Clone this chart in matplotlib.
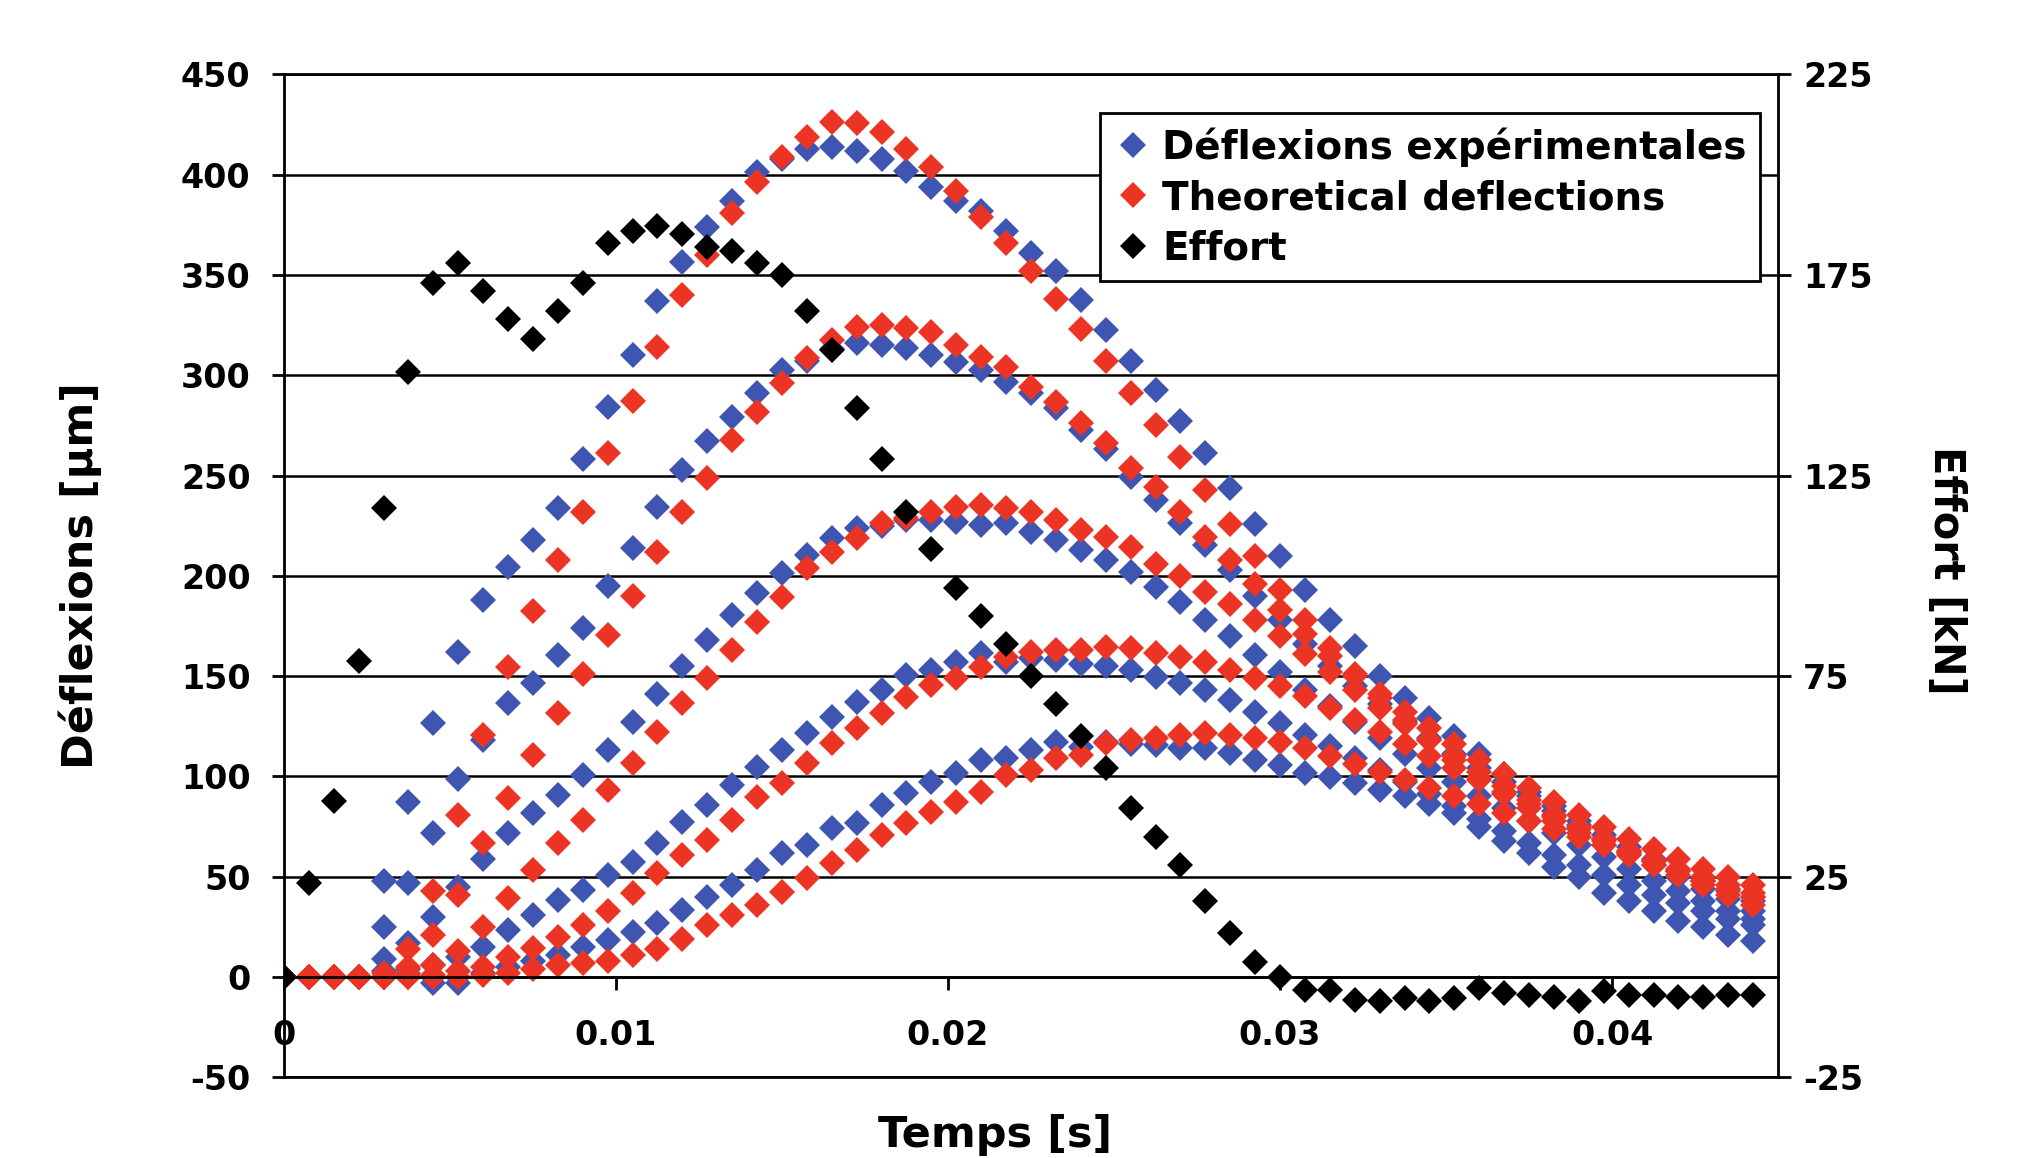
import numpy as np
import matplotlib.pyplot as plt

plt.rcParams['font.family'] = ['DejaVu Sans']
plt.rcParams['font.weight'] = 'bold'
plt.rcParams['axes.unicode_minus'] = False

# pas de temps des mesures (s), 60 echantillons
dt = 0.00075
n_pts = 60
exp_start = 4  # les mesures commencent a t = 0.003 s

# Deflexions experimentales [um] (5 capteurs), de t = 0.003 s a t = 0.04425 s
exp_A = [48, 87, 126.5, 162, 188, 204.5, 218, 234, 258, 284, 310, 337, 356.5, 374, 387, 401.5, 408, 413,
         414, 412, 408, 402, 394, 387, 382, 372, 361, 352, 337.5, 322.5, 307, 292.6, 277, 261, 244, 226,
         210, 193, 178, 165, 150, 139, 129, 120, 111, 101, 92, 85, 78, 71, 65, 59, 53, 48, 43, 38]
exp_B = [25, 47, 71.6, 98.5, 118, 136.8, 146.7, 160.5, 174, 195, 214, 234.5, 253, 267, 279, 291, 302.6, 307,
         313, 316, 315, 313.4, 310, 306.7, 302.6, 296.8, 291, 283.5, 272.7, 263, 249.4, 237.8, 226.2, 215.4, 203, 190,
         178, 166, 155, 145, 136, 127, 119, 111, 104, 97, 90, 83, 76, 69, 62, 56, 50, 44, 39, 33]
exp_C = [9, 17, 30, 45, 59, 71.6, 81.6, 90.7, 100.7, 113, 127, 141, 155, 168, 180.5, 191.3, 201.2, 210.4,
         218.7, 223.7, 225, 227.8, 227.8, 227, 225.3, 226.2, 222, 217.8, 213, 208, 202, 194.6, 187, 178, 170, 160.5,
         152, 143, 135, 127, 119, 111, 104, 97, 90, 84, 78, 72, 66, 60, 54, 48, 43, 38, 33, 29]
exp_D = [3, 4, 6, 10, 15, 23.4, 30.9, 38.4, 43.4, 50.8, 57.5, 66.6, 77.4, 85.7, 95.7, 104.9, 113.2, 121.5,
         129.8, 137.3, 143.1, 150.5, 153, 157.2, 161.3, 157, 159, 158, 156, 155, 153, 149.7, 146.4, 143, 138, 132.3,
         126.5, 120.6, 115, 109, 103, 97, 91, 85, 79, 73, 67, 61, 56, 51, 46, 41, 37, 33, 29, 26]
exp_E = [0, 1, -3, -3, 2, 5, 8, 11, 15, 18.4, 22.6, 26.8, 33.4, 40, 45.9, 53.3, 61.6, 65.8,
         74.1, 76.6, 85.7, 91.6, 97.4, 101.5, 108.2, 109, 113.2, 117.3, 114.8, 117, 116, 115.7, 114, 114, 111.5, 108.2,
         105.7, 101.5, 99.9, 96.5, 93, 90, 86, 82, 75, 68, 62, 55, 50, 42, 38, 33, 28, 25, 21, 18]

# Deflexions theoriques [um], de t = 0 a t = 0.04425 s
theo_A = [0, 0, 0, 0, 2, 14, 43, 81, 120.6, 154.7, 182.5, 208, 232, 261, 287, 314, 340, 360, 381, 396.5,
          408.6, 419, 426, 425.6, 421.4, 413, 404, 392, 379, 366, 352, 338, 323, 307, 291, 275, 259, 243, 226, 210,
          193, 178, 164, 151, 139, 128, 118, 108, 99, 91, 84, 78, 72, 66, 61, 56, 51, 46, 41, 36]
theo_B = [0, 0, 0, 0, 0, 5, 21, 41, 66.6, 89, 110.7, 131.4, 151, 170.5, 190, 212, 232, 248.6, 267.7, 281.8,
          296, 308.4, 317.5, 324.2, 325, 323.4, 321.7, 315, 309.2, 304.3, 294.3, 286.8, 276, 266, 253.6, 244.4, 232, 219.5, 208, 196,
          183, 171, 160, 150, 141, 132, 124, 116, 108, 101, 94, 87, 81, 75, 69, 64, 59, 54, 50, 46]
theo_C = [0, 0, 0, 0, 0, 2, 6, 13, 25, 39.2, 53.3, 66.6, 78.3, 93.2, 106.5, 122.3, 136.4, 149, 163, 177,
          189.6, 203.7, 212, 218.7, 226.2, 229, 232, 234.5, 235.3, 233.6, 232, 227.8, 222.8, 219.5, 214.5, 206, 200, 192, 186, 178,
          170, 161, 152, 143, 134, 126, 118, 110, 102, 95, 88, 81, 75, 69, 63, 58, 53, 48, 44, 40]
theo_D = [0, 0, 0, 0, 0, 0, 1, 3, 5, 10, 14.3, 20, 26, 33, 42, 52, 61, 68.3, 78.3, 89.9,
          96.5, 106.5, 116.5, 124, 131.4, 139.7, 145.6, 148.9, 154.7, 159.7, 162.2, 163, 163, 164.7, 164, 161.3, 159.7, 157.2, 153, 149,
          145, 140, 134, 128, 122, 116, 110, 104, 98, 92, 86, 80, 74, 68, 63, 58, 53, 48, 44, 40]
theo_E = [0, 0, 0, 0, 0, 0, 0, 0, 1, 2, 4, 6, 7, 8, 11, 14, 19, 26, 30.9, 35.9,
          42.5, 49.2, 56.7, 63.3, 70.8, 76.6, 82.4, 87.4, 92.4, 100.7, 103.2, 109, 110.7, 116.5, 118, 119, 120.6, 121.5, 120.6, 119,
          117, 114, 110, 106, 102, 98, 94, 90, 86, 82, 78, 74, 70, 66, 62, 58, 54, 50, 46, 42]

# Effort [kN]
effort = [0, 23.5, 43.8, 78.8, 117, 150.8, 173.1, 178, 170.9, 164, 159, 166.1, 173.1, 182.9, 186, 187.2, 185.1, 182, 181, 178,
          175, 166, 156.2, 141.9, 129, 116, 106.7, 97, 90, 83, 75, 68, 60, 52, 42, 35, 28, 19, 11, 3.8,
          0, -3.2, -3.2, -5.7, -6.1, -5.3, -6.1, -5.3, -2.8, -4.1, -4.5, -5, -6, -3.5, -4.5, -4.5, -5, -5, -4.5, -4.5]

temps = np.arange(n_pts) * dt
temps_exp = temps[exp_start:]

bleu = '#3F55B2'
rouge = '#EC3424'
ms = 13

fig = plt.figure(figsize=(20.18, 11.58), dpi=100)
ax = fig.add_axes([0.1407, 0.0697, 0.7404, 0.8661])
ax2 = ax.twinx()

# courbes
for i, serie in enumerate([exp_A, exp_B, exp_C, exp_D, exp_E]):
    l_exp, = ax.plot(temps_exp, serie, ls='none', marker='D', ms=ms, mew=0, color=bleu)
    if i == 0:
        h_exp = l_exp
for i, serie in enumerate([theo_A, theo_B, theo_C, theo_D, theo_E]):
    l_th, = ax.plot(temps, serie, ls='none', marker='D', ms=ms, mew=0, color=rouge)
    if i == 0:
        h_th = l_th
h_eff, = ax2.plot(temps, effort, ls='none', marker='D', ms=ms, mew=0, color='black')

# axes
ax.set_xlim(0, 0.045)
ax.set_ylim(-50, 450)
ax2.set_ylim(-25, 225)
ax.set_yticks(np.arange(-50, 451, 50))
ax2.set_yticks(np.arange(-25, 226, 50))
ax.set_xticks([0, 0.01, 0.02, 0.03, 0.04])
ax.set_xticklabels(['0', '0.01', '0.02', '0.03', '0.04'])

ax.grid(axis='y', color='black', lw=1.8)
ax.set_axisbelow(True)

ax.spines['bottom'].set_position(('data', 0))
ax.spines['top'].set_visible(False)
ax.spines['right'].set_visible(False)
ax2.spines['left'].set_visible(False)
for sp in ['left', 'bottom']:
    ax.spines[sp].set_linewidth(2)
for sp in ['right', 'top', 'bottom']:
    ax2.spines[sp].set_linewidth(2)

ax.tick_params(axis='y', direction='out', length=9, width=2, labelsize=24, pad=15)
ax.tick_params(axis='x', direction='out', length=9, width=2, labelsize=24, pad=21)
ax2.tick_params(axis='y', direction='out', length=9, width=2, labelsize=24, pad=9)

ax.set_xlabel('Temps [s]', fontsize=31, fontweight='bold', va='center')
ax.xaxis.set_label_coords(0.476, -0.058)
ax.set_ylabel('Déflexions [µm]', fontsize=31, fontweight='bold', va='center')
ax.yaxis.set_label_coords(-0.1365, 0.5)
ax2.set_ylabel('Effort [kN]', fontsize=30, fontweight='bold', rotation=-90, va='center')
ax2.yaxis.set_label_coords(1.1125, 0.505)

# legende
leg = ax2.legend([h_exp, h_th, h_eff],
                 ['Déflexions expérimentales', 'Theoretical deflections', 'Effort'],
                 loc='upper left', bbox_to_anchor=(0.546, 0.961), borderaxespad=0,
                 fontsize=28, frameon=True, fancybox=False, framealpha=1,
                 edgecolor='black', borderpad=0.35, labelspacing=0.32,
                 handlelength=1.0, handletextpad=0.25, numpoints=1)
leg.get_frame().set_linewidth(2)

plt.savefig('out.png', dpi=100)
